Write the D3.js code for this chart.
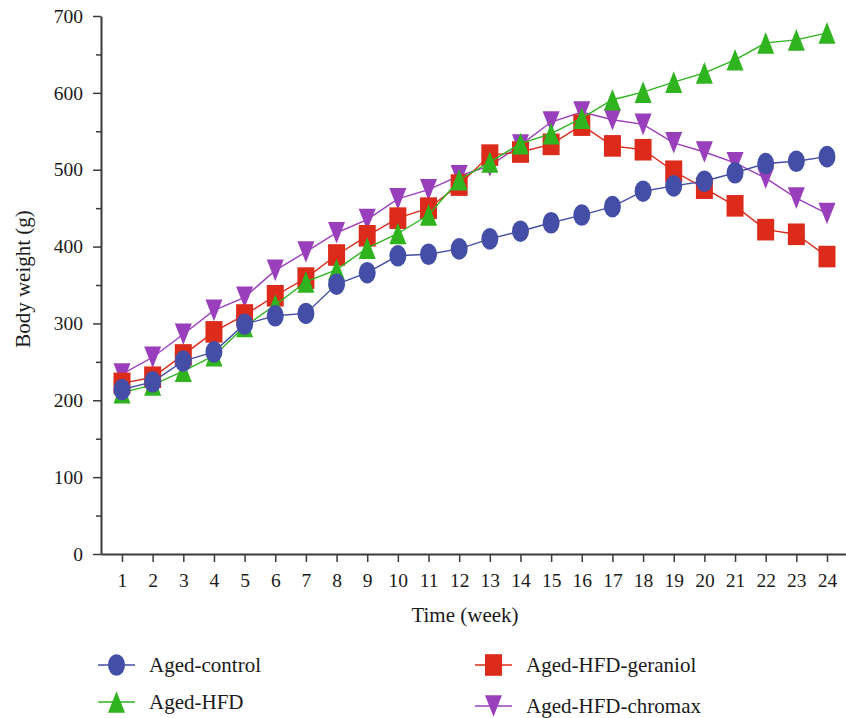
<!DOCTYPE html>
<html>
<head>
<meta charset="utf-8">
<script src="https://cdn.jsdelivr.net/npm/d3@7"></script>
<style>
  body { margin: 0; background: #fff; }
  text { font-family: "Liberation Serif", "DejaVu Serif", serif; fill: #1a1a1a; }
  .axis path, .axis line { stroke: #3a3a3a; }
</style>
</head>
<body>
<div id="chart"></div>
<script>
const WIDTH = 846;
const HEIGHT = 718;

// data
var weeks = d3.range(1, 25);
var seriesNames = ["Aged-control", "Aged-HFD", "Aged-HFD-geraniol", "Aged-HFD-chromax"];
var agedControl = [214, 224, 251, 263, 299, 310, 313, 351, 366, 388, 390, 397, 410, 420, 431, 441, 452, 472, 479, 485, 496, 508, 511, 517];
var agedHFD = [210, 220, 238, 258, 296, 324, 354, 370, 398, 417, 441, 487, 510, 534, 547, 567, 591, 601, 614, 626, 643, 665, 669, 678];
var agedGeraniol = [222, 230, 259, 289, 311, 336, 359, 389, 414, 437, 450, 480, 519, 523, 533, 558, 531, 526, 498, 476, 453, 422, 416, 387];
var agedChromax = [234, 256, 286, 317, 334, 369, 393, 418, 435, 462, 474, 492, 505, 532, 562, 575, 565, 559, 535, 523, 509, 489, 463, 443];
var yTicks = [0, 100, 200, 300, 400, 500, 600, 700];

var colors = ["#454ea6", "#2fb31e", "#dc2a1b", "#9a3fbb"];
var symbols = ["circle", "up", "square", "down"];
var allValues = [agedControl, agedHFD, agedGeraniol, agedChromax];
var drawOrder = [3, 2, 1, 0];

var svg = d3.select("#chart").append("svg")
  .attr("width", WIDTH)
  .attr("height", HEIGHT);

var xScale = d3.scaleLinear().domain([0.315, 24.62]).range([101, 846]);
var yScale = d3.scaleLinear().domain([0, 700]).range([554, 16]);

// marker shapes, about 17 wide x 21.5 tall
var markerPath = function (type) {
  var w = 8.5, h = 10.8;
  if (type === "circle") {
    return "M" + (-w) + ",0A" + w + "," + h + " 0 1,0 " + w + ",0A" + w + "," + h + " 0 1,0 " + (-w) + ",0Z";
  }
  if (type === "square") return "M" + (-w) + "," + (-h) + "H" + w + "V" + h + "H" + (-w) + "Z";
  if (type === "up") return "M0," + (-h) + "L" + w + "," + h + "L" + (-w) + "," + h + "Z";
  return "M0," + h + "L" + w + "," + (-h) + "L" + (-w) + "," + (-h) + "Z";
};

// axes
var xAxis = d3.axisBottom(xScale).tickValues(weeks).tickSize(8).tickPadding(11).tickSizeOuter(0);
var gx = svg.append("g").attr("class", "axis")
  .attr("transform", "translate(0," + yScale(0) + ")")
  .call(xAxis);
gx.select(".domain").attr("stroke-width", 2);
gx.selectAll(".tick line").attr("stroke-width", 1.5);
gx.selectAll(".tick text").style("font-size", "19.5px");

var yAxis = d3.axisLeft(yScale).tickValues(yTicks).tickSize(8).tickPadding(10).tickSizeOuter(0);
var gy = svg.append("g").attr("class", "axis")
  .attr("transform", "translate(" + xScale.range()[0] + ",0)")
  .call(yAxis);
gy.select(".domain").attr("stroke-width", 2);
gy.selectAll(".tick line").attr("stroke-width", 1.5);
gy.selectAll(".tick text").style("font-size", "19.5px");

var yMinor = d3.axisLeft(yScale).tickValues(d3.range(50, 700, 100)).tickSize(5).tickFormat("");
var gym = svg.append("g").attr("class", "axis")
  .attr("transform", "translate(" + xScale.range()[0] + ",0)")
  .call(yMinor);
gym.select(".domain").remove();
gym.selectAll(".tick line").attr("stroke-width", 1.5);

svg.append("text")
  .attr("x", 465).attr("y", 615)
  .attr("text-anchor", "middle").attr("dominant-baseline", "central")
  .style("font-size", "21px")
  .text("Time (week)");

svg.append("text")
  .attr("transform", "translate(23,279) rotate(-90)")
  .attr("text-anchor", "middle").attr("dominant-baseline", "central")
  .style("font-size", "21px")
  .text("Body weight (g)");

// series
var line = d3.line()
  .x(function (d, i) { return xScale(weeks[i]); })
  .y(function (d) { return yScale(d); });

drawOrder.forEach(function (s) {
  var vals = allValues[s];
  var g = svg.append("g");
  g.append("path")
    .attr("d", line(vals))
    .attr("fill", "none")
    .attr("stroke", colors[s])
    .attr("stroke-width", 1.4);
  g.selectAll("path.mark")
    .data(vals)
    .enter()
    .append("path")
    .attr("class", "mark")
    .attr("d", markerPath(symbols[s]))
    .attr("transform", function (d, i) { return "translate(" + xScale(weeks[i]) + "," + yScale(d) + ")"; })
    .attr("fill", colors[s]);
});

// legend
var legendPos = [[98, 665], [98, 702], [475, 665], [475, 706]];
seriesNames.forEach(function (name, s) {
  var g = svg.append("g").attr("transform", "translate(" + legendPos[s][0] + "," + legendPos[s][1] + ")");
  g.append("line").attr("x1", 0).attr("x2", 37).attr("y1", 0).attr("y2", 0)
    .attr("stroke", colors[s]).attr("stroke-width", 1.4);
  g.append("path").attr("d", markerPath(symbols[s]))
    .attr("transform", "translate(18.5,0)").attr("fill", colors[s]);
  g.append("text").attr("x", 51).attr("y", 0)
    .attr("dominant-baseline", "central")
    .style("font-size", "21px")
    .text(name);
});
</script>
</body>
</html>
